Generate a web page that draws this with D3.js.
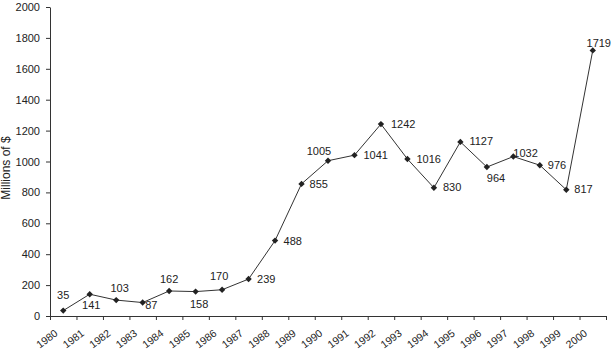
<!DOCTYPE html>
<html>
<head>
<meta charset="utf-8">
<script src="https://cdn.jsdelivr.net/npm/d3@7"></script>
<style>
  html, body { margin: 0; padding: 0; background: #fff; }
  svg { display: block; }
  text { font-family: "Liberation Sans", Arial, Helvetica, sans-serif; fill: #222; }
</style>
</head>
<body>
<svg id="chart" width="616" height="356"></svg>
<script>
// ---- data ----
const years = ["1980","1981","1982","1983","1984","1985","1986","1987","1988","1989","1990",
               "1991","1992","1993","1994","1995","1996","1997","1998","1999","2000"];
const values = [35, 141, 103, 87, 162, 158, 170, 239, 488, 855, 1005,
                1041, 1242, 1016, 830, 1127, 964, 1032, 976, 817, 1719];
const yTicks = [0, 200, 400, 600, 800, 1000, 1200, 1400, 1600, 1800, 2000];
const yTitle = "Millions of $";

// ---- label placement (style, not data): [dx, dy, anchor] ----
const labelPlacement = {
  "1980": [0, -11.5, "middle"], "1981": [1.5, 15, "middle"], "1982": [3.5, -8.5, "middle"],
  "1983": [2.5, 6.5, "start"],  "1984": [0, -7.5, "middle"], "1985": [3.5, 16.5, "middle"],
  "1986": [-3, -10, "middle"],  "1987": [8.5, 3.5, "start"], "1988": [8.5, 4, "start"],
  "1989": [8, 4, "start"],      "1990": [-9, -5.5, "middle"], "1991": [9, 4, "start"],
  "1992": [10, 4, "start"],     "1993": [9, 3.5, "start"],   "1994": [9, 3.5, "start"],
  "1995": [9, 3.5, "start"],    "1996": [0, 15, "start"],    "1997": [0, 0, "start"],
  "1998": [8, 3.5, "start"],    "1999": [8, 3.5, "start"],   "2000": [6, -3, "middle"]
};

const svg = d3.select("#chart");
const mLeft = 50, mRight = 606, mTop = 7, mBottom = 316;

const x = d3.scaleBand().domain(years).range([mLeft, mRight]).paddingInner(0).paddingOuter(0);
const xEdge = d3.scaleLinear().domain([0, years.length]).range([mLeft, mRight]);
const y = d3.scaleLinear().domain([0, 2000]).range([mBottom, mTop]);

const data = years.map((yr, i) => ({ year: yr, value: values[i] }));
const cx = d => x(d.year) + x.bandwidth() / 2;

// y axis
const yAxis = svg.append("g")
  .attr("transform", `translate(${mLeft},0)`)
  .call(d3.axisLeft(y).tickValues(yTicks).tickFormat(d3.format("d"))
        .tickSize(4).tickSizeOuter(0).tickPadding(6));
yAxis.selectAll("text").style("font-size", "11px").style("font-family", '"Liberation Sans", Arial, sans-serif').attr("fill", "#222");
yAxis.selectAll("path, line").attr("stroke", "#333");

// x axis (ticks at category boundaries)
const xAxis = svg.append("g")
  .attr("transform", `translate(0,${mBottom})`)
  .call(d3.axisBottom(xEdge).tickValues(d3.range(0, years.length + 1)).tickSize(4).tickSizeOuter(0).tickFormat(""));
xAxis.selectAll("path, line").attr("stroke", "#333");

// x tick labels, rotated
svg.append("g").selectAll("text")
  .data(years)
  .join("text")
  .attr("transform", (d, i) => `translate(${xEdge(i) + 8.5},${mBottom + 18.8}) rotate(-37)`)
  .attr("text-anchor", "end")
  .style("font-size", "10.5px")
  .text(d => d);

// y title
svg.append("text")
  .attr("transform", `translate(10,168) rotate(-90)`)
  .attr("text-anchor", "middle")
  .style("font-size", "12px")
  .text(yTitle);

// line
svg.append("path")
  .datum(data)
  .attr("fill", "none")
  .attr("stroke", "#333")
  .attr("stroke-width", 1)
  .attr("d", d3.line().x(cx).y(d => y(d.value)));

// markers
svg.append("g").selectAll("path")
  .data(data)
  .join("path")
  .attr("transform", d => `translate(${cx(d)},${y(d.value)})`)
  .attr("d", "M0,-3.2L3.2,0L0,3.2L-3.2,0Z")
  .attr("fill", "#222");

// value labels
svg.append("g").selectAll("text")
  .data(data)
  .join("text")
  .attr("x", d => cx(d) + labelPlacement[d.year][0])
  .attr("y", d => y(d.value) + labelPlacement[d.year][1])
  .attr("text-anchor", d => labelPlacement[d.year][2])
  .style("font-size", "11px")
  .text(d => d.value);
</script>
</body>
</html>
